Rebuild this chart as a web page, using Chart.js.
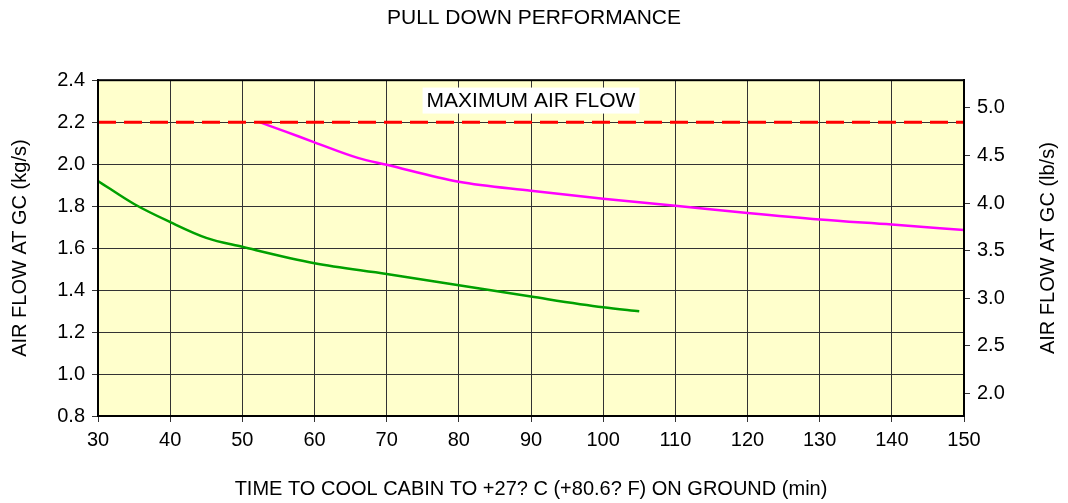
<!DOCTYPE HTML>
<html lang="en">
<head>
    <meta charset="utf-8">
    <script src="https://cdn.jsdelivr.net/npm/chart.js@4.4.0/dist/chart.umd.min.js"></script>
    <style>
        html, body { margin: 0; padding: 0; background: #fff; }
        #contenedor { width: 1068px; height: 503px; }
    </style>
</head>
<body>
    <div id="contenedor"><canvas id="grafica"></canvas></div>
<script>
    // tiempo de enfriamiento (min) y caudal de aire (kg/s)
    const tiempoVerde = [30, 35, 40, 45, 50, 60, 70, 80, 90, 100, 105]
    const caudalVerde = [1.92, 1.81, 1.724, 1.649, 1.606, 1.528, 1.477, 1.423, 1.369, 1.318, 1.299]

    const tiempoMagenta = [52.4, 56, 60, 66, 70, 80, 90, 100, 110, 120, 130, 140, 150]
    const caudalMagenta = [2.2, 2.155, 2.104, 2.03, 1.997, 1.916, 1.873, 1.835, 1.802, 1.767, 1.736, 1.712, 1.686]

    const caudalMaximo = 2.2
    const textoMaximo = 'MAXIMUM AIR FLOW'
    const posicionTextoMaximo = [90, 2.303]

    const rangoTiempo = [30, 150]
    const rangoKg = [0.8, 2.4]
    const ticksLb = [2.0, 2.5, 3.0, 3.5, 4.0, 4.5, 5.0]
    const kgALb = 2.20462

    const tituloDerecho = 'AIR FLOW AT GC (lb/s)'
    const fuente = "'Liberation Sans', Arial, Helvetica, sans-serif"

    const aPuntos = (xs, ys) => xs.map((x, i) => ({ x: x, y: ys[i] }))

    const fondoAmarillo = {
        id: 'fondoAmarillo',
        beforeDraw(chart) {
            const { ctx, chartArea: a } = chart
            ctx.save()
            ctx.fillStyle = '#FFFFCC'
            ctx.fillRect(a.left, a.top, a.right - a.left, a.bottom - a.top)
            ctx.restore()
        }
    }

    const etiquetaMaximo = {
        id: 'etiquetaMaximo',
        afterDatasetsDraw(chart) {
            const { ctx, scales } = chart
            const x = scales.x.getPixelForValue(posicionTextoMaximo[0])
            const y = scales.y.getPixelForValue(posicionTextoMaximo[1])
            ctx.save()
            ctx.font = '21px ' + fuente
            const ancho = ctx.measureText(textoMaximo).width
            ctx.fillStyle = '#fff'
            ctx.fillRect(x - ancho / 2 - 4, y - 13, ancho + 8, 26)
            ctx.fillStyle = '#000'
            ctx.textAlign = 'center'
            ctx.textBaseline = 'middle'
            ctx.fillText(textoMaximo, x, y + 1)
            ctx.restore()
        }
    }

    // marco del área y título del eje derecho (leído de abajo hacia arriba)
    const marco = {
        id: 'marco',
        afterDraw(chart) {
            const { ctx, chartArea: a, scales } = chart
            ctx.save()
            ctx.strokeStyle = '#000'
            ctx.lineWidth = 2
            ctx.strokeRect(a.left, a.top, a.right - a.left, a.bottom - a.top)

            ctx.translate(scales.y2.right - 20, (a.top + a.bottom) / 2)
            ctx.rotate(-Math.PI / 2)
            ctx.font = '20px ' + fuente
            ctx.fillStyle = '#000'
            ctx.textAlign = 'center'
            ctx.textBaseline = 'middle'
            ctx.fillText(tituloDerecho, 0, 0)
            ctx.restore()
        }
    }

    const rejilla = { color: '#333333', lineWidth: 1, tickLength: 6, tickColor: '#333333' }

    new Chart(document.querySelector('#grafica'), {
        type: 'line',
        data: {
            datasets: [
                {
                    data: aPuntos(rangoTiempo, [caudalMaximo, caudalMaximo]),
                    borderColor: '#FF0000',
                    borderWidth: 3,
                    borderDash: [18, 8],
                    pointRadius: 0
                },
                {
                    data: aPuntos(tiempoMagenta, caudalMagenta),
                    borderColor: '#FF00FF',
                    borderWidth: 2.5,
                    cubicInterpolationMode: 'monotone',
                    pointRadius: 0
                },
                {
                    data: aPuntos(tiempoVerde, caudalVerde),
                    borderColor: '#00A000',
                    borderWidth: 2.5,
                    cubicInterpolationMode: 'monotone',
                    pointRadius: 0
                }
            ]
        },
        options: {
            responsive: true,
            maintainAspectRatio: false,
            animation: false,
            layout: { padding: 0 },
            plugins: {
                legend: { display: false },
                tooltip: { enabled: false },
                title: {
                    display: true,
                    text: 'PULL DOWN PERFORMANCE',
                    color: '#000',
                    font: { family: fuente, size: 21, weight: 'normal' },
                    padding: { top: 6, bottom: 49 }
                }
            },
            scales: {
                x: {
                    type: 'linear',
                    min: rangoTiempo[0],
                    max: rangoTiempo[1],
                    afterFit: (s) => { s.height = 87 },
                    ticks: { stepSize: 10, color: '#000', padding: 6, font: { family: fuente, size: 20 } },
                    grid: rejilla,
                    border: { color: '#000', width: 2 },
                    title: {
                        display: true,
                        text: 'TIME TO COOL CABIN TO +27? C (+80.6? F) ON GROUND (min)',
                        color: '#000',
                        font: { family: fuente, size: 20 },
                        padding: { top: 0, bottom: 2 }
                    }
                },
                y: {
                    position: 'left',
                    min: rangoKg[0],
                    max: rangoKg[1],
                    afterFit: (s) => { s.width = 98 },
                    ticks: {
                        stepSize: 0.2, color: '#000', padding: 7,
                        font: { family: fuente, size: 20 },
                        callback: (v) => v.toFixed(1)
                    },
                    grid: rejilla,
                    border: { color: '#000', width: 2 },
                    title: {
                        display: true,
                        text: 'AIR FLOW AT GC (kg/s)',
                        color: '#000',
                        font: { family: fuente, size: 20 },
                        padding: { top: 8, bottom: 0 }
                    }
                },
                y2: {
                    position: 'right',
                    min: rangoKg[0] * kgALb,
                    max: rangoKg[1] * kgALb,
                    afterFit: (s) => { s.width = 104 },
                    afterBuildTicks: (s) => {
                        s.ticks = ticksLb.map(v => ({ value: v }))
                    },
                    ticks: {
                        color: '#000', padding: 7,
                        font: { family: fuente, size: 20 },
                        callback: (v) => v.toFixed(1)
                    },
                    grid: { drawOnChartArea: false, tickLength: 6, tickColor: '#333333' },
                    border: { color: '#000', width: 2 }
                }
            }
        },
        plugins: [fondoAmarillo, etiquetaMaximo, marco]
    })
</script>
</body>
</html>
